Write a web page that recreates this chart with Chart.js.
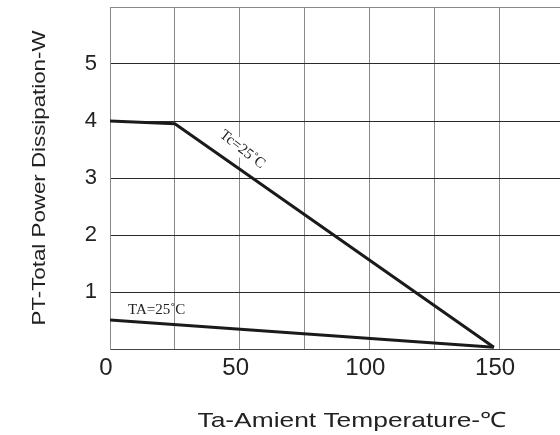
<!DOCTYPE html>
<html>
<head>
<meta charset="utf-8">
<script src="https://cdn.jsdelivr.net/npm/chart.js@4/dist/chart.umd.min.js"></script>
<style>
  html, body { margin: 0; padding: 0; background: #fff; }
  #wrap { width: 560px; height: 435px; }
</style>
</head>
<body>
<div id="wrap"><canvas id="chart" width="560" height="435"></canvas></div>
<script>
// =====================
// Data
// =====================
const tcTemp  = [0, 25, 148];
const tcPower = [4.0, 3.95, 0.03];
const taTemp  = [0, 148];
const taPower = [0.51, 0.03];

const xGrid = [0, 25, 50, 75, 100, 125, 150];
const xTickLabels = [0, 50, 100, 150];
const yGrid = [0, 1, 2, 3, 4, 5, 6];
const yTickLabels = [1, 2, 3, 4, 5];

const xTitle = 'Ta-Amient Temperature-℃';
const yTitle = 'PT-Total Power Dissipation-W';

// curve annotations: text + anchor in data units
const curveNotes = [
  { text: "Tc=25˚C", x: 51, y: 3.5, angle: 38 },
  { text: "TA=25˚C", x: 18, y: 0.69, angle: 0 }
];

const toPoints = (xs, ys) => xs.map((x, i) => ({ x, y: ys[i] }));
const SANS = '"Liberation Sans", Arial, sans-serif';

// draw the little serif notes next to the curves
const notesPlugin = {
  id: 'notes',
  afterDatasetsDraw(chart) {
    const { ctx, scales: { x, y } } = chart;
    ctx.save();
    ctx.font = '15px "Liberation Serif", "DejaVu Serif", serif';
    ctx.textAlign = 'center';
    ctx.textBaseline = 'middle';
    curveNotes.forEach(n => {
      ctx.save();
      ctx.translate(x.getPixelForValue(n.x), y.getPixelForValue(n.y));
      ctx.rotate(n.angle * Math.PI / 180);
      if (n.angle) {
        // white knock-out behind the rotated label
        const w = ctx.measureText(n.text).width;
        ctx.fillStyle = '#fff';
        ctx.fillRect(-w / 2 - 2, -8, w + 4, 16);
      }
      ctx.fillStyle = '#222';
      ctx.fillText(n.text, 0, 0);
      ctx.restore();
    });
    ctx.restore();
  }
};

// axis titles, stretched a bit along their length like the datasheet lettering
const titlesPlugin = {
  id: 'axisTitles',
  afterDraw(chart) {
    const { ctx, chartArea: a } = chart;
    ctx.save();
    ctx.fillStyle = '#222';
    ctx.textAlign = 'center';
    ctx.textBaseline = 'alphabetic';

    // x title
    ctx.font = '21px ' + SANS;
    let w = ctx.measureText(xTitle).width;
    ctx.save();
    ctx.translate((a.left + a.right) / 2 + 17, chart.height - 8);
    ctx.scale(309 / w, 1);
    ctx.fillText(xTitle, 0, 0);
    ctx.restore();

    // y title
    ctx.font = '18px ' + SANS;
    w = ctx.measureText(yTitle).width;
    ctx.save();
    ctx.translate(45, (a.top + a.bottom) / 2);
    ctx.rotate(-Math.PI / 2);
    ctx.scale(295 / w, 1);
    ctx.fillText(yTitle, 0, 0);
    ctx.restore();

    ctx.restore();
  }
};

const lineStyle = {
  borderColor: '#1a1a1a',
  borderWidth: 3,
  pointRadius: 0,
  tension: 0,
  fill: false,
  showLine: true
};

new Chart(document.getElementById('chart'), {
  type: 'scatter',
  data: {
    datasets: [
      { label: 'Tc=25˚C', data: toPoints(tcTemp, tcPower), ...lineStyle },
      { label: 'TA=25˚C', data: toPoints(taTemp, taPower), ...lineStyle }
    ]
  },
  options: {
    responsive: false,
    animation: false,
    layout: { padding: { top: 7, right: 0, left: 0, bottom: 0 } },
    plugins: {
      legend: { display: false },
      tooltip: { enabled: false }
    },
    scales: {
      x: {
        type: 'linear',
        min: 0,
        max: 173.5,
        afterBuildTicks: s => { s.ticks = xGrid.map(v => ({ value: v })); },
        afterFit: s => {
          s.height = 86;
          s.paddingLeft = 0;
          s.paddingRight = 0;
        },
        ticks: {
          padding: 5,
          labelOffset: -4,
          color: '#222',
          font: { family: SANS, size: 24 },
          maxRotation: 0,
          autoSkip: false,
          callback: v => xTickLabels.includes(v) ? String(v) : ''
        },
        grid: { drawTicks: false, lineWidth: 1, color: '#8a8a8a' },
        border: { color: '#444', width: 1 },
        title: { display: false }
      },
      y: {
        type: 'linear',
        min: 0,
        max: 6,
        afterBuildTicks: s => { s.ticks = yGrid.map(v => ({ value: v })); },
        afterFit: s => {
          s.width = 110;
          s.paddingTop = 0;
          s.paddingBottom = 0;
        },
        ticks: {
          padding: 13,
          color: '#222',
          font: { family: SANS, size: 22 },
          callback: v => yTickLabels.includes(v) ? String(v) : ''
        },
        grid: {
          drawTicks: false,
          lineWidth: 1,
          color: c => (c.tick && c.tick.value === 6) ? '#8a8a8a' : '#2a2a2a'
        },
        border: { color: '#8a8a8a', width: 1 },
        title: { display: false }
      }
    }
  },
  plugins: [notesPlugin, titlesPlugin]
});
</script>
</body>
</html>
